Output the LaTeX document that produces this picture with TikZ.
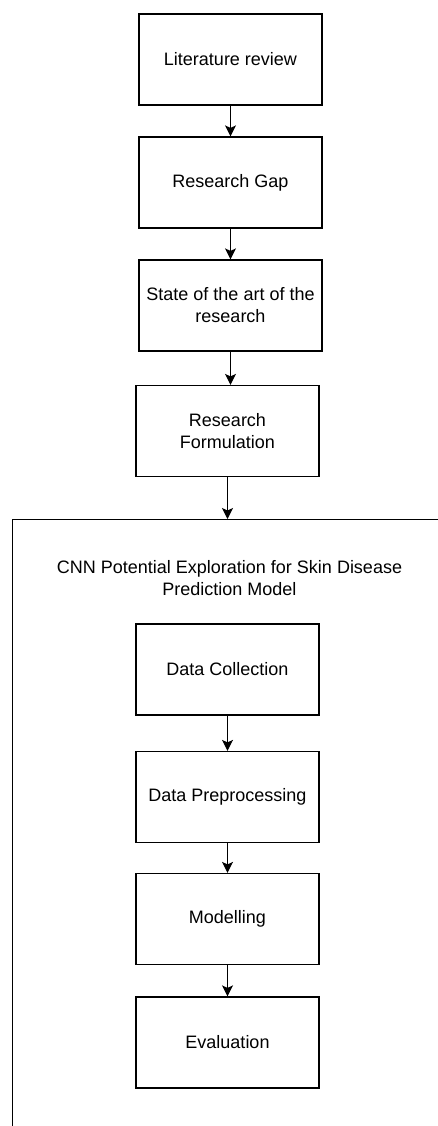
\documentclass[tikz,border=0pt]{standalone}
\usepackage{fontspec}
\setmainfont{Liberation Sans}
\usetikzlibrary{arrows.meta}
\begin{document}
\begin{tikzpicture}[x=1pt,y=-1pt,
  stepbox/.style={draw=black,line width=1.2pt,minimum width=183pt,minimum height=91pt,
    inner sep=2pt,align=center,font=\fontsize{18}{22}\selectfont},
  flow/.style={line width=1.2pt,-{Stealth[length=11pt,width=11pt,inset=2.5pt]}},
  frame/.style={draw=black,line width=1.2pt}]
\useasboundingbox (0,0) rectangle (438,1126);
\clip (0,0) rectangle (438,1126);

% research steps
\node[stepbox] (lit)  at (230.5,59.5) {Literature review};
\node[stepbox] (gap)  at (230.5,182.5) {Research Gap};
\node[stepbox] (sota) at (230.5,305.5) {State of the art of the\\research};
\node[stepbox] (form) at (227.5,431) {Research\\Formulation};

% container for the model development
\node[frame,anchor=north west,minimum width=460pt,minimum height=640pt,inner sep=0pt]
  (cnn) at (11.5,519) {};
\node[align=center,font=\fontsize{18}{22}\selectfont] (title) at (229.5,578)
  {CNN Potential Exploration for Skin Disease\\Prediction Model};
\coordinate (cnntop) at (227.5,519);

% model steps
\node[stepbox] (coll) at (227.5,669.5) {Data Collection};
\node[stepbox] (prep) at (227.5,797) {Data Preprocessing};
\node[stepbox] (mod)  at (227.5,919) {Modelling};
\node[stepbox] (eval) at (227.5,1042.5) {Evaluation};

% connectors
\draw[flow] (lit.south) -- (gap.north);
\draw[flow] (gap.south) -- (sota.north);
\draw[flow] (sota.south) -- (form.north -| sota.south);
\draw[flow] (form.south) -- (cnntop);
\draw[flow] (coll.south) -- (prep.north);
\draw[flow] (prep.south) -- (mod.north);
\draw[flow] (mod.south) -- (eval.north);
\end{tikzpicture}
\end{document}
